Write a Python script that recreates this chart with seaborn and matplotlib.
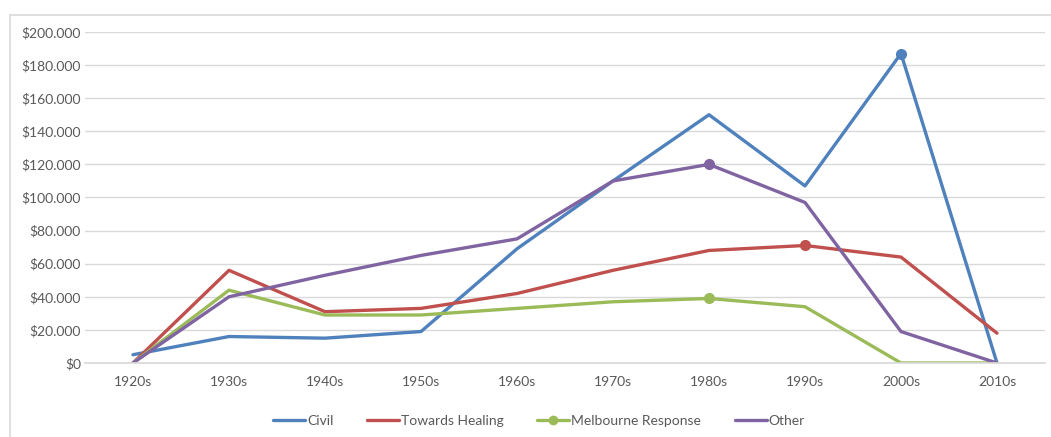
import matplotlib
matplotlib.use("Agg")
import matplotlib.pyplot as plt
import matplotlib.ticker as mticker
import pandas as pd
import seaborn as sns

# -----------------------
# Data
# -----------------------
decades = ["1920s", "1930s", "1940s", "1950s", "1960s",
           "1970s", "1980s", "1990s", "2000s", "2010s"]
civil = [5000, 16000, 15000, 19000, 69000, 110000, 150000, 107000, 187000, 0]
towards_healing = [0, 56000, 31000, 33000, 42000, 56000, 68000, 71000, 64000, 18000]
melbourne_response = [0, 44000, 29000, 29000, 33000, 37000, 39000, 34000, 0, 0]
other = [0, 40000, 53000, 65000, 75000, 110000, 120000, 97000, 19000, 0]

series_names = ["Civil", "Towards Healing", "Melbourne Response", "Other"]
colors = ["#4F81BD", "#C0504D", "#9BBB59", "#8064A2"]
# index of the single highlighted point in each series
marked = [8, 7, 6, 6]

df = pd.DataFrame({
    "decade": decades * 4,
    "series": sum([[n] * len(decades) for n in series_names], []),
    "value": civil + towards_healing + melbourne_response + other,
})
df["x"] = df["decade"].map({d: i for i, d in enumerate(decades)})

sns.set_theme(style="white")
plt.rcParams["font.family"] = ["Lato", "DejaVu Sans"]

fig = plt.figure(figsize=(10.51, 4.37), dpi=100)
ax = fig.add_axes([85 / 1051, 1 - 363 / 437, 960 / 1051, 331 / 437])

sns.lineplot(data=df, x="x", y="value", hue="series", hue_order=series_names,
             palette=colors, linewidth=2.4, legend=False, ax=ax)

for name, col, mi in zip(series_names, colors, marked):
    sub = df[df["series"] == name]
    ax.plot(sub["x"].iloc[mi], sub["value"].iloc[mi], "o", color=col,
            markersize=7, zorder=5)

ax.set_xlim(-0.5, len(decades) - 0.5)
ax.set_ylim(0, 200000)
ax.set_xticks(range(len(decades)))
ax.set_xticklabels(decades)
ax.yaxis.set_major_locator(mticker.MultipleLocator(20000))
ax.yaxis.set_major_formatter(
    mticker.FuncFormatter(lambda v, p: "$0" if v == 0 else "${:,.0f}".format(v).replace(",", ".")))
ax.grid(axis="y", color="#D9D9D9", linewidth=1)
ax.set_axisbelow(True)
for s in ["top", "right", "left"]:
    ax.spines[s].set_visible(False)
ax.spines["bottom"].set_color("#D9D9D9")
ax.tick_params(axis="both", colors="#595959", labelsize=10, length=0)
ax.tick_params(axis="x", pad=9)
ax.tick_params(axis="y", pad=3)
ax.set_xlabel("")
ax.set_ylabel("")

# legend
handles = []
for name, col in zip(series_names, colors):
    mk = "o" if name == "Melbourne Response" else None
    handles.append(plt.Line2D([], [], color=col, linewidth=2.4, marker=mk, markersize=6))
fig.legend(handles, series_names, loc="center", bbox_to_anchor=(0.513, 1 - 421 / 437),
           ncol=4, frameon=False, fontsize=10, handlelength=2.3, handletextpad=0.15,
           columnspacing=2.4, labelcolor="#595959")

# chart border (top and left edges visible in reference)
fig.add_artist(plt.Line2D([10 / 1051, 1], [1 - 15 / 437, 1 - 15 / 437],
                          color="#D9D9D9", linewidth=1.2))
fig.add_artist(plt.Line2D([10 / 1051, 10 / 1051], [0, 1 - 15 / 437],
                          color="#D9D9D9", linewidth=1.2))

fig.savefig("out.png", dpi=100)
